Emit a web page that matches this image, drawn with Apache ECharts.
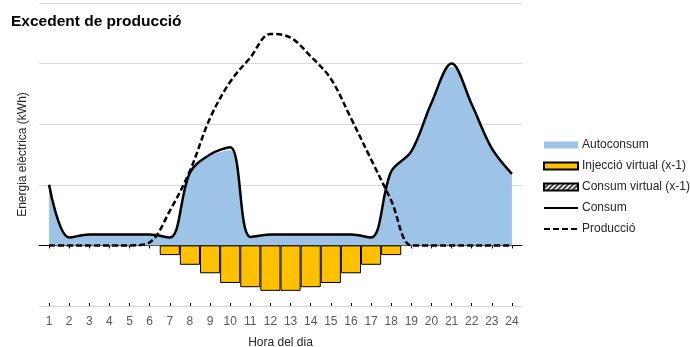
<!DOCTYPE html>
<html>
<head>
<meta charset="utf-8">
<script src="https://cdn.jsdelivr.net/npm/echarts@6/dist/echarts.min.js"></script>
<style>
html,body{margin:0;padding:0;background:#fff;}
#c{width:690px;height:347px;}
</style>
</head>
<body>
<div id="c"></div>
<script>
var hours = ['1','2','3','4','5','6','7','8','9','10','11','12','13','14','15','16','17','18','19','20','21','22','23','24'];
var consum = [1.0, 0.13, 0.18, 0.18, 0.18, 0.18, 0.13, 1.2, 1.5, 1.62, 0.14, 0.18, 0.18, 0.18, 0.18, 0.18, 0.13, 1.22, 1.55, 2.35, 3.0, 2.33, 1.6, 1.18];
var autoconsum = [1.0, 0.13, 0.18, 0.18, 0.18, 0.18, 0.13, 1.2, 1.48, 1.57, 0.14, 0.18, 0.18, 0.18, 0.18, 0.18, 0.13, 1.22, 1.55, 2.35, 2.95, 2.33, 1.6, 1.18];
var produccio = [0, 0, 0, 0, 0, 0.05, 0.57, 1.23, 2.1, 2.7, 3.1, 3.49, 3.43, 3.12, 2.75, 2.1, 1.42, 0.74, 0, 0, 0, 0, 0, 0];
var injeccio = [null, null, null, null, null, null, -0.16, -0.32, -0.46, -0.62, -0.69, -0.75, -0.75, -0.69, -0.62, -0.46, -0.32, -0.16, null, null, null, null, null, null];
var consumVirtual = [null, null, null, null, null, null, null, null, null, null, null, null, null, null, null, null, null, null, null, null, null, null, null, null];

var pc = document.createElement('canvas');
pc.width = 5; pc.height = 5;
var g = pc.getContext('2d');
g.fillStyle = '#fff'; g.fillRect(0,0,5,5);
g.strokeStyle = '#222'; g.lineWidth = 1.6;
g.beginPath();
g.moveTo(-1,6); g.lineTo(6,-1);
g.moveTo(-1,1); g.lineTo(1,-1);
g.moveTo(4,6); g.lineTo(6,4);
g.stroke();

var font = 'Liberation Sans, Arial, sans-serif';
var chart = echarts.init(document.getElementById('c'));
var xBase = {
  type: 'category', data: hours, boundaryGap: true
};
chart.setOption({
  animation: false,
  textStyle: {fontFamily: font},
  title: {
    text: 'Excedent de producció', left: 9, top: 12, padding: [2, 2, 2, 2],
    textStyle: {fontFamily: font, fontSize: 15.5, fontWeight: 'bold', color: '#000'}
  },
  grid: {left: 39, right: 168, top: 3, bottom: 41, outerBoundsMode: 'none', containLabel: false},
  legend: {
    orient: 'vertical', left: 543, top: 139, padding: 0,
    itemWidth: 34, itemHeight: 7, itemGap: 9,
    textStyle: {fontFamily: font, fontSize: 12, color: '#262626', padding: [0,0,0,-1]},
    data: [
      {name: 'Autoconsum', icon: 'rect'},
      {name: 'Injecció virtual (x-1)', icon: 'rect'},
      {name: 'Consum virtual (x-1)', icon: 'rect'},
      {name: 'Consum', itemStyle: {opacity: 0}},
      {name: 'Producció', itemStyle: {opacity: 0}}
    ]
  },
  xAxis: [
    Object.assign({}, xBase, {
      position: 'bottom',
      axisLine: {show: false, onZero: false},
      axisTick: {show: false},
      axisLabel: {interval: 0, color: '#595959', fontSize: 12, margin: 10, fontFamily: font},
      name: 'Hora del dia', nameLocation: 'middle', nameGap: 31,
      nameTextStyle: {color: '#262626', fontSize: 12, fontFamily: font}
    }),
    Object.assign({}, xBase, {
      position: 'bottom',
      axisLine: {show: true, onZero: true, lineStyle: {color: '#000', width: 1}},
      axisTick: {show: true, alignWithLabel: true, interval: 0, length: 3, lineStyle: {color: '#000'}},
      axisLabel: {show: false}
    }),
    Object.assign({}, xBase, {
      position: 'bottom',
      axisLine: {show: false, onZero: true},
      axisTick: {show: true, inside: true, alignWithLabel: true, interval: 0, length: 3, lineStyle: {color: '#000'}},
      axisLabel: {show: false}
    })
  ],
  yAxis: {
    type: 'value', min: -1, max: 4, interval: 1,
    axisLine: {show: false}, axisTick: {show: false}, axisLabel: {show: false},
    splitLine: {lineStyle: {color: '#D9D9D9', width: 1}},
    name: 'Energia elèctrica (kWh)', nameLocation: 'middle', nameGap: 10, nameRotate: 90,
    nameTextStyle: {color: '#262626', fontSize: 12, fontFamily: font}
  },
  series: [
    {
      name: 'Autoconsum', type: 'line', data: autoconsum, smooth: 0.35,
      symbol: 'none', lineStyle: {width: 0},
      itemStyle: {color: '#9DC3E6'},
      areaStyle: {color: '#9DC3E6', opacity: 1}, z: 1
    },
    {
      name: 'Injecció virtual (x-1)', type: 'bar', data: injeccio, stack: 'v',
      barCategoryGap: '0%',
      itemStyle: {color: '#FFC000', borderColor: '#000', borderWidth: 1}, z: 3
    },
    {
      name: 'Consum virtual (x-1)', type: 'bar', data: consumVirtual, stack: 'v',
      barCategoryGap: '0%',
      itemStyle: {color: {image: pc, repeat: 'repeat'}, borderColor: '#000', borderWidth: 1}, z: 3
    },
    {
      name: 'Consum', type: 'line', data: consum, smooth: 0.35,
      symbol: 'none', itemStyle: {color: '#000'},
      lineStyle: {color: '#000', width: 2.5}, z: 5
    },
    {
      name: 'Producció', type: 'line', data: produccio, smooth: 0.35,
      symbol: 'none', itemStyle: {color: '#000'},
      lineStyle: {color: '#000', width: 2.5, type: [6, 3]}, z: 6
    }
  ]
});
</script>
</body>
</html>
